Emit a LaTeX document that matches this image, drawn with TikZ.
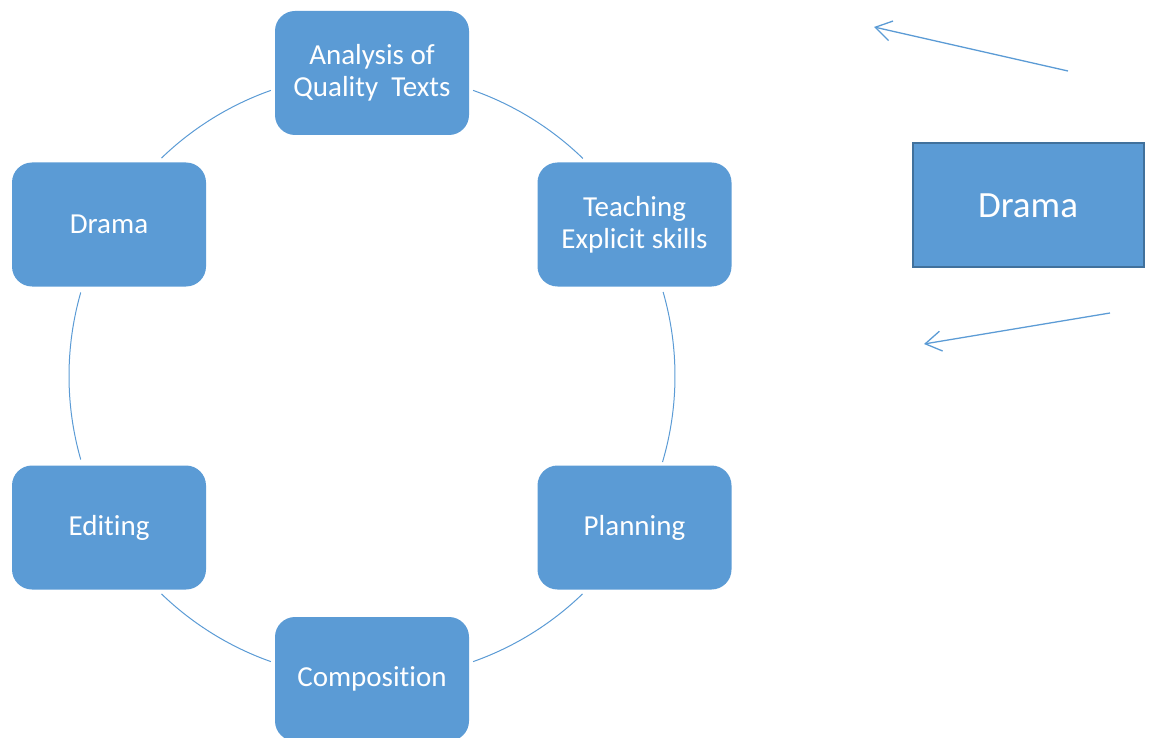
\documentclass[tikz,border=0pt]{standalone}
\usepackage{fontspec}
\setmainfont[Ligatures=NoCommon]{Carlito}
\usetikzlibrary{arrows.meta}
\definecolor{boxblue}{HTML}{5B9BD5}
\definecolor{borderblue}{HTML}{41719C}
\tikzset{
  cyclebox/.style={rounded corners=20pt, fill=boxblue, draw=none, minimum width=194pt, minimum height=124pt, text=white, align=center, inner sep=0pt, font=\fontsize{29}{32}\selectfont},
  sidebox/.style={fill=boxblue, draw=borderblue, line width=2pt, minimum width=231pt, minimum height=124pt, text=white, inner sep=0pt, font=\fontsize{37}{40}\selectfont},
  ring/.style={draw=boxblue, line width=1pt},
  pointer/.style={draw=boxblue, line width=1.3pt, -{Straight Barb[length=16pt, width=20pt, line width=1.3pt]}}
}
\begin{document}
\begin{tikzpicture}[x=1pt, y=-1pt]
\useasboundingbox (0,0) rectangle (1149,738);
\coordinate (c) at (372,376);
\node[cyclebox] (analysis) at (372,73) {Analysis of\\Quality~~Texts};
\node[cyclebox] (teaching) at (634.5,224.5) {Teaching\\Explicit skills};
\node[cyclebox] (planning) at (634.5,527.5) {Planning};
\node[cyclebox] (composition) at (372,679) {Composition};
\node[cyclebox] (editing) at (109,527.5) {Editing};
\node[cyclebox] (drama) at (109,224.5) {Drama};
\node[sidebox] (drama2) at (1028,205.5) {Drama};
% ring arcs (y axis flipped, so angles measured clockwise here)
\draw[ring] ([shift={(-70.5:303)}]c) arc[start angle=-70.5, end angle=-45.9, radius=303];
\draw[ring] ([shift={(-16.1:303)}]c) arc[start angle=-16.1, end angle=16.5, radius=303];
\draw[ring] ([shift={(46:303)}]c) arc[start angle=46, end angle=70.5, radius=303];
\draw[ring] ([shift={(109.5:303)}]c) arc[start angle=109.5, end angle=134, radius=303];
\draw[ring] ([shift={(164:303)}]c) arc[start angle=164, end angle=196, radius=303];
\draw[ring] ([shift={(226:303)}]c) arc[start angle=226, end angle=250.5, radius=303];
% free arrows
\coordinate (a1s) at (1068,71);
\coordinate (a1e) at (874,27);
\coordinate (a2s) at (1110,313);
\coordinate (a2e) at (924,344);
\draw[pointer] (a1s) -- (a1e);
\draw[pointer] (a2s) -- (a2e);
\end{tikzpicture}
\end{document}
